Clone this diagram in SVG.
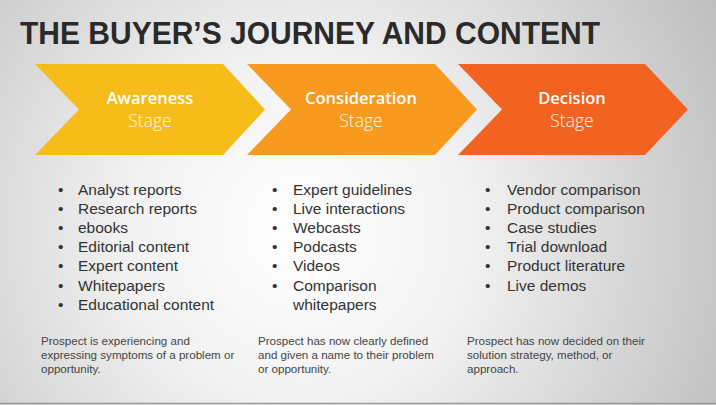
<svg xmlns="http://www.w3.org/2000/svg" width="716" height="405" viewBox="0 0 716 405">
<defs>
<radialGradient id="bg" cx="300" cy="230" r="480" gradientUnits="userSpaceOnUse">
<stop offset="0" stop-color="#ffffff"/>
<stop offset="0.35" stop-color="#f2f2f2"/>
<stop offset="1" stop-color="#bdbdbd"/>
</radialGradient>
<style>
.title{font-family:"Liberation Sans",Arial,sans-serif;font-weight:bold;font-size:32px;fill:#2a2a2a}
.h{font-family:"Open Sans","Liberation Sans",sans-serif;font-weight:600;font-size:16.5px;fill:#ffffff;text-anchor:middle}
.s{font-family:"Open Sans","Liberation Sans",sans-serif;font-weight:300;font-size:17.5px;fill:#fff6e0;text-anchor:middle}
.li{font-family:"Liberation Sans",Arial,sans-serif;font-size:15.5px;fill:#333333}
.d{font-family:"Liberation Sans",Arial,sans-serif;font-size:11.6px;fill:#444444}
</style>
</defs>
<rect width="716" height="405" fill="url(#bg)"/>
<line x1="0" y1="403.5" x2="716" y2="403.5" stroke="#9a9a9a" stroke-width="1.5"/>
<text class="title" x="20" y="44" textLength="580" lengthAdjust="spacingAndGlyphs">THE BUYER’S JOURNEY AND CONTENT</text>

<g id="awareness">
<polygon points="35,64 223,64 265,109.5 223,155 35,155 79,109.5" fill="#F5BC1A"/>
<text class="h" x="150" y="104">Awareness</text>
<text class="s" x="150" y="127">Stage</text>
</g>
<g id="consideration">
<polygon points="247,64 435,64 477,109.5 435,155 247,155 291,109.5" fill="#F79A1F"/>
<text class="h" x="361" y="104">Consideration</text>
<text class="s" x="361" y="127">Stage</text>
</g>
<g id="decision">
<polygon points="458,64 645,64 688,109.5 645,155 458,155 502,109.5" fill="#F26322"/>
<text class="h" x="572" y="104">Decision</text>
<text class="s" x="572" y="127">Stage</text>
</g>

<g id="awareness-list" class="li">
<text x="58" y="195">•</text><text x="78" y="195">Analyst reports</text>
<text x="58" y="214">•</text><text x="78" y="214">Research reports</text>
<text x="58" y="233">•</text><text x="78" y="233">ebooks</text>
<text x="58" y="252">•</text><text x="78" y="252">Editorial content</text>
<text x="58" y="271">•</text><text x="78" y="271">Expert content</text>
<text x="58" y="291">•</text><text x="78" y="291">Whitepapers</text>
<text x="58" y="310">•</text><text x="78" y="310">Educational content</text>
</g>
<g id="consideration-list" class="li">
<text x="272" y="195">•</text><text x="293" y="195">Expert guidelines</text>
<text x="272" y="214">•</text><text x="293" y="214">Live interactions</text>
<text x="272" y="233">•</text><text x="293" y="233">Webcasts</text>
<text x="272" y="252">•</text><text x="293" y="252">Podcasts</text>
<text x="272" y="271">•</text><text x="293" y="271">Videos</text>
<text x="272" y="291">•</text><text x="293" y="291">Comparison</text>
<text x="293" y="310">whitepapers</text>
</g>
<g id="decision-list" class="li">
<text x="485" y="195">•</text><text x="507" y="195">Vendor comparison</text>
<text x="485" y="214">•</text><text x="507" y="214">Product comparison</text>
<text x="485" y="233">•</text><text x="507" y="233">Case studies</text>
<text x="485" y="252">•</text><text x="507" y="252">Trial download</text>
<text x="485" y="271">•</text><text x="507" y="271">Product literature</text>
<text x="485" y="291">•</text><text x="507" y="291">Live demos</text>
</g>

<g id="awareness-desc" class="d">
<text x="41" y="345">Prospect is experiencing and</text>
<text x="41" y="359">expressing symptoms of a problem or</text>
<text x="41" y="373">opportunity.</text>
</g>
<g id="consideration-desc" class="d">
<text x="258" y="345">Prospect has now clearly defined</text>
<text x="258" y="359">and given a name to their problem</text>
<text x="258" y="373">or opportunity.</text>
</g>
<g id="decision-desc" class="d">
<text x="467" y="345">Prospect has now decided on their</text>
<text x="467" y="359">solution strategy, method, or</text>
<text x="467" y="373">approach.</text>
</g>
</svg>
